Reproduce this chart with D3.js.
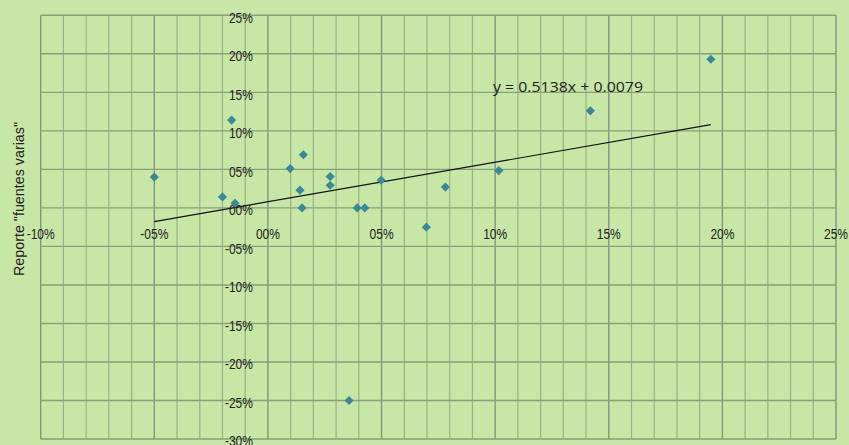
<!DOCTYPE html>
<html>
<head>
    <title>Reporte fuentes varias</title>
    <script src="https://d3js.org/d3.v7.min.js"></script>
    <style>
        body { margin: 0; background: #c8e7a6; }
        svg { display: block; }
        .tick-label {
            font-family: "Liberation Sans", Arial, sans-serif;
            font-size: 15px;
            fill: #222;
        }
        .axis-title {
            font-family: "Liberation Sans", Arial, sans-serif;
            font-size: 14.3px;
            fill: #222;
        }
        .equation {
            font-family: "Open Sans", "Noto Sans", sans-serif;
            font-size: 14px;
            fill: #222;
        }
    </style>
</head>
<body>
    <svg width="849" height="445"></svg>

    <script>
        // values in percent
        const xValues = [-5.0, -2.0, -1.45, -1.6, 0.98, 1.56, 1.41, 1.5, 2.74, 2.74, 3.93, 4.26, 4.98, 6.97, 7.81, 10.16, 14.19, 19.49, 3.57];
        const yValues = [4.0, 1.43, 0.6, 11.4, 5.1, 6.9, 2.3, 0.0, 4.06, 2.94, 0.0, 0.0, 3.6, -2.5, 2.7, 4.84, 12.6, 19.3, -25.0];

        const xTicks = [-10, -5, 0, 5, 10, 15, 20, 25];
        const yTicks = [25, 20, 15, 10, 5, 0, -5, -10, -15, -20, -25, -30];

        // trendline coefficients (fractions)
        const slope = 0.5138;
        const intercept = 0.0079;
        const equationLabel = "y = 0.5138x + 0.0079";
        const yTitle = 'Reporte "fuentes varias"';

        const svg = d3.select("svg");
        const plotLeft = 40.7, plotRight = 836, plotTop = 15.3, plotBottom = 439;

        const x = d3.scaleLinear().domain([-10, 25]).range([plotLeft, plotRight]);
        const y = d3.scaleLinear().domain([-30, 25]).range([plotBottom, plotTop]);

        const fmt = v => (v < 0 ? "-" : "") + String(Math.abs(v)).padStart(2, "0") + "%";

        // vertical grid, every 1%
        svg.append("g")
            .selectAll("line")
            .data(d3.range(-10, 26, 1))
            .enter().append("line")
            .attr("x1", d => x(d)).attr("x2", d => x(d))
            .attr("y1", plotTop).attr("y2", plotBottom)
            .attr("stroke", d => d % 5 === 0 ? "#82967a" : "#9ab287")
            .attr("stroke-width", d => d % 5 === 0 ? 1.4 : 1.2);

        // horizontal grid, every 5%
        svg.append("g")
            .selectAll("line")
            .data(yTicks)
            .enter().append("line")
            .attr("x1", plotLeft).attr("x2", plotRight)
            .attr("y1", d => y(d)).attr("y2", d => y(d))
            .attr("stroke", "#8a9e7b")
            .attr("stroke-width", 1.4);

        // y tick labels, right aligned next to the x=0 line
        svg.append("g")
            .selectAll("g")
            .data(yTicks)
            .enter().append("g")
            .attr("transform", d => `translate(${x(0) - 15},${y(d) + 2}) scale(0.8,1)`)
            .append("text")
            .attr("class", "tick-label")
            .attr("text-anchor", "end")
            .attr("dy", "0.35em")
            .text(fmt);

        // x tick labels under the y=0 line
        svg.append("g")
            .selectAll("g")
            .data(xTicks)
            .enter().append("g")
            .attr("transform", d => `translate(${x(d)},${y(0) + 31}) scale(0.8,1)`)
            .append("text")
            .attr("class", "tick-label")
            .attr("text-anchor", "middle")
            .text(fmt);

        // trendline over the data range
        const xr = d3.extent(xValues);
        svg.append("line")
            .attr("x1", x(xr[0])).attr("y1", y((slope * xr[0] / 100 + intercept) * 100))
            .attr("x2", x(xr[1])).attr("y2", y((slope * xr[1] / 100 + intercept) * 100))
            .attr("stroke", "#111")
            .attr("stroke-width", 1.2);

        // points
        const points = xValues.map((v, i) => ({ x: v, y: yValues[i] }));
        svg.append("g")
            .selectAll("path")
            .data(points)
            .enter().append("path")
            .attr("d", d3.symbol(d3.symbolSquare, 42))
            .attr("transform", d => `translate(${x(d.x)},${y(d.y)}) rotate(45)`)
            .attr("fill", "#3a8996");

        svg.append("text")
            .attr("class", "equation")
            .attr("x", 493)
            .attr("y", 92)
            .attr("textLength", 150)
            .attr("lengthAdjust", "spacingAndGlyphs")
            .text(equationLabel);

        svg.append("text")
            .attr("class", "axis-title")
            .attr("transform", "translate(24,199) rotate(-90)")
            .attr("text-anchor", "middle")
            .text(yTitle);
    </script>
</body>
</html>
